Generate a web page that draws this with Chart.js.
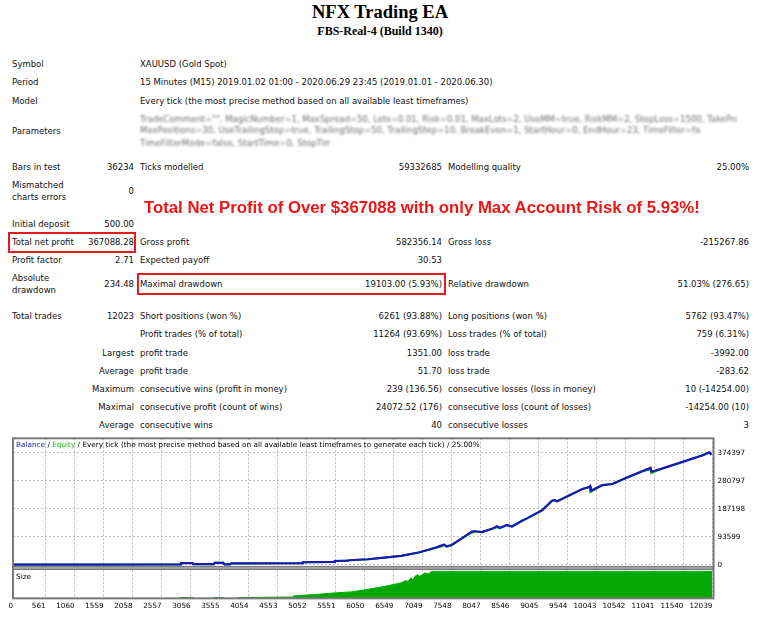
<!DOCTYPE html>
<html>
<head>
<meta charset="utf-8">
<script src="https://cdn.jsdelivr.net/npm/chart.js@4.4.1/dist/chart.umd.min.js"></script>
<style>
html, body { margin: 0; padding: 0; background: #fff; }
body { width: 760px; height: 620px; position: relative; overflow: hidden;
       font-family: "DejaVu Sans", sans-serif; font-size: 8.5px; color: #111; }
.title { position: absolute; left: 0; width: 760px; top: 2px; line-height: 20px; text-align: center;
         font: bold 18.5px "Liberation Serif", serif; color: #000; }
.sub { position: absolute; left: 0; width: 760px; top: 24px; line-height: 14px; text-align: center;
       font: bold 12px "Liberation Serif", serif; color: #000; }
.r { position: absolute; left: 0; width: 760px; height: 12px; line-height: 12px; }
.r span { position: absolute; top: 0; white-space: nowrap; }
.r span.two { top: -6px; }
.a { left: 12px; } .b { right: 626px; } .c { left: 140px; }
.d { right: 318px; } .e { left: 448px; } .f { right: 11px; }
.blur { position: absolute; left: 140px; height: 12px; line-height: 12px; overflow: hidden; white-space: nowrap;
        color: #3a3a3a; filter: blur(1.2px); opacity: 0.75; }
.headline { position: absolute; left: 144px; top: 199px; line-height: 18px; white-space: nowrap;
            font: bold 16px "Liberation Sans", sans-serif; color: #f01414; transform-origin: 0 50%; }
.box { position: absolute; border: 2px solid #e31b1b; box-sizing: border-box; }
#wrap { position: absolute; left: 0; top: 430px; width: 760px; height: 190px; }
.cap { position: absolute; left: 16px; font-size: 7.3px; line-height: 10px; white-space: nowrap; color: #000; }
</style>
</head>
<body>
<div class="title">NFX Trading EA</div>
<div class="sub">FBS-Real-4 (Build 1340)</div>

<div class="r" style="top:58px"><span class="a">Symbol</span><span class="c">XAUUSD (Gold Spot)</span></div>
<div class="r" style="top:76px"><span class="a">Period</span><span class="c">15 Minutes (M15) 2019.01.02 01:00 - 2020.06.29 23:45 (2019.01.01 - 2020.06.30)</span></div>
<div class="r" style="top:95px"><span class="a">Model</span><span class="c">Every tick (the most precise method based on all available least timeframes)</span></div>
<div class="r" style="top:125px"><span class="a">Parameters</span></div>
<div class="blur" style="top:113px;width:597px">TradeComment="", MagicNumber=1, MaxSpread=50, Lots=0.01, Risk=0.01, MaxLots=2, UseMM=true, RiskMM=2, StopLoss=1500, TakeProfit=300, Trailing=true</div>
<div class="blur" style="top:124px;width:560px">MaxPositions=30, UseTrailingStop=true, TrailingStop=50, TrailingStep=10, BreakEven=1, StartHour=0, EndHour=23, TimeFilter=false, Distance=150, Multiplier=1.5</div>
<div class="blur" style="top:137px;width:190px">TimeFilterMode=false, StartTime=0, StopTime=23</div>

<div class="r" style="top:161px"><span class="a">Bars in test</span><span class="b">36234</span><span class="c">Ticks modelled</span><span class="d">59332685</span><span class="e">Modelling quality</span><span class="f">25.00%</span></div>
<div class="r" style="top:185px"><span class="a two">Mismatched<br>charts errors</span><span class="b">0</span></div>

<div class="headline" id="headline">Total Net Profit of Over $367088 with only Max Account Risk of 5.93%!</div>

<div class="r" style="top:218px"><span class="a">Initial deposit</span><span class="b">500.00</span></div>
<div class="r" style="top:236px"><span class="a">Total net profit</span><span class="b">367088.28</span><span class="c">Gross profit</span><span class="d">582356.14</span><span class="e">Gross loss</span><span class="f">-215267.86</span></div>
<div class="r" style="top:254px"><span class="a">Profit factor</span><span class="b">2.71</span><span class="c">Expected payoff</span><span class="d">30.53</span></div>
<div class="r" style="top:278px"><span class="a two">Absolute<br>drawdown</span><span class="b">234.48</span><span class="c">Maximal drawdown</span><span class="d">19103.00 (5.93%)</span><span class="e">Relative drawdown</span><span class="f">51.03% (276.65)</span></div>
<div class="r" style="top:310px"><span class="a">Total trades</span><span class="b">12023</span><span class="c">Short positions (won %)</span><span class="d">6261 (93.88%)</span><span class="e">Long positions (won %)</span><span class="f">5762 (93.47%)</span></div>
<div class="r" style="top:328px"><span class="c">Profit trades (% of total)</span><span class="d">11264 (93.69%)</span><span class="e">Loss trades (% of total)</span><span class="f">759 (6.31%)</span></div>
<div class="r" style="top:347px"><span class="b">Largest</span><span class="c">profit trade</span><span class="d">1351.00</span><span class="e">loss trade</span><span class="f">-3992.00</span></div>
<div class="r" style="top:365px"><span class="b">Average</span><span class="c">profit trade</span><span class="d">51.70</span><span class="e">loss trade</span><span class="f">-283.62</span></div>
<div class="r" style="top:383px"><span class="b">Maximum</span><span class="c">consecutive wins (profit in money)</span><span class="d">239 (136.56)</span><span class="e">consecutive losses (loss in money)</span><span class="f">10 (-14254.00)</span></div>
<div class="r" style="top:401px"><span class="b">Maximal</span><span class="c">consecutive profit (count of wins)</span><span class="d">24072.52 (176)</span><span class="e">consecutive loss (count of losses)</span><span class="f">-14254.00 (10)</span></div>
<div class="r" style="top:419px"><span class="b">Average</span><span class="c">consecutive wins</span><span class="d">40</span><span class="e">consecutive losses</span><span class="f">3</span></div>

<div class="box" style="left:8px;top:232px;width:128px;height:21px"></div>
<div class="box" style="left:137px;top:273px;width:309px;height:22px"></div>

<div id="wrap"><canvas id="chart" width="760" height="190"></canvas></div>
<div class="cap" style="top:440px"><span style="color:#1a1ab4">Balance</span> / <span style="color:#1cbf1c">Equity</span> / Every tick (the most precise method based on all available least timeframes to generate each tick) / 25.00%</div>
<div class="cap" style="top:572px">Size</div>

<script>
// axis labels as printed by the tester
const xTicks = [0, 561, 1060, 1559, 2058, 2557, 3056, 3555, 4054, 4553, 5052, 5551, 6050, 6549,
                7049, 7548, 8047, 8546, 9045, 9544, 10043, 10542, 11041, 11540, 12039];
const yTicks = [0, 93599, 187198, 280797, 374397];

// balance / equity (trade number -> money)
const balanceTrades = [0, 1500, 2880, 2890, 3090, 3100, 3460, 3470, 3620, 3640, 3740, 3760,
                       4980, 4990, 5530, 5540, 5760, 5790, 6118, 6395, 6689, 6982, 7259, 7380,
                       7420, 7466, 7553, 7726, 7898, 7950, 8071, 8244, 8330, 8382, 8503, 8590,
                       8762, 8849, 9108, 9281, 9320, 9367, 9450, 9800, 9920, 9935, 9945, 10145,
                       10318, 10491, 10837, 10975, 10990, 11182, 11528, 11873, 11990, 12023];
const balanceValues = [500, 700, 1200, 5500, 5500, 1800, 2000, 6500, 6500, 1500, 1500, 4500,
                       5000, 8500, 9500, 12500, 13500, 15000, 18500, 24000, 30000, 41000, 56000, 65000,
                       67000, 62000, 66000, 88000, 111000, 112000, 109000, 120000, 129000, 123000, 133000, 128000,
                       147000, 155000, 182000, 214000, 216000, 212000, 220000, 253000, 260000, 263000, 247000, 266000,
                       270000, 285000, 313000, 324000, 311000, 322000, 344000, 366000, 376000, 367588];
const equityValues = [500, 700, 1200, 5500, 5500, 1800, 2000, 6500, 6500, 1500, 1500, 4500,
                      5000, 8500, 9500, 12500, 13500, 15000, 18500, 24000, 30000, 41000, 56000, 61000,
                      67000, 60000, 66000, 88000, 107000, 112000, 109000, 120000, 125000, 123000, 133000, 128000,
                      147000, 155000, 182000, 214000, 216000, 212000, 220000, 253000, 260000, 255000, 243000, 266000,
                      270000, 285000, 313000, 318000, 306000, 322000, 344000, 366000, 376000, 367588];

// position size per trade (lots)
const sizeTrades = [0, 2880, 2881, 3090, 3091, 3460, 3461, 3620, 3621, 3870, 3871, 4820, 4830,
                    5250, 5530, 5825, 6118, 6343, 6568, 6689, 6760, 6800, 6850, 6880, 6913,
                    6960, 7000, 7034, 7086, 7150, 7207, 12023, 12024];
const sizeLots = [0, 0, 1.5, 1.5, 0, 0, 1.5, 1.5, 0, 0, 1.5, 2.5, 4.5,
                  7.5, 10, 12, 17, 21, 26, 29, 33, 31, 38, 34, 40,
                  44, 41, 43, 47, 45, 50, 50, 0];

function toPoints(xs, ys) {
    return xs.map((x, i) => ({ x: x, y: ys[i] }));
}

// stretch the red headline to the width it has in the report
const hl = document.getElementById('headline');
hl.style.transform = 'scaleX(' + (556 / hl.offsetWidth) + ')';

Chart.defaults.font.family = '"DejaVu Sans", sans-serif';
Chart.defaults.font.size = 7.2;
Chart.defaults.color = '#000';

const framePlugin = {
    id: 'frame',
    afterDatasetsDraw(chart) {
        const { ctx, chartArea: a, scales } = chart;
        const sep = scales.y.bottom;
        ctx.save();
        ctx.fillStyle = '#a3a3a3';
        ctx.fillRect(a.left, sep, a.right - a.left, 4);
        ctx.strokeStyle = '#7a7a7a';
        ctx.lineWidth = 1;
        ctx.strokeRect(a.left + 0.5, sep + 0.5, a.right - a.left - 1, 3);
        ctx.lineWidth = 2;
        ctx.strokeRect(a.left, a.top, a.right - a.left, a.bottom - a.top);
        ctx.restore();
    }
};

// grid lines are dashed and crisp; the axis line itself is left invisible (frame is drawn by the plugin)
const gridOpts = { color: '#bcbcbc', lineWidth: 1, drawTicks: false };
const borderOpts = { display: true, width: 1, color: 'rgba(0,0,0,0)', dash: [2, 2] };

new Chart(document.getElementById('chart'), {
    type: 'line',
    data: {
        datasets: [{
            label: 'Balance',
            data: toPoints(balanceTrades, balanceValues),
            yAxisID: 'y',
            borderColor: '#1818b4',
            borderWidth: 2.2,
            pointRadius: 0,
            fill: false
        }, {
            label: 'Equity',
            data: toPoints(balanceTrades, equityValues),
            yAxisID: 'y',
            borderColor: '#14b414',
            borderWidth: 2,
            pointRadius: 0,
            fill: false
        }, {
            label: 'Size',
            data: toPoints(sizeTrades, sizeLots),
            yAxisID: 'ySize',
            borderColor: '#04a804',
            backgroundColor: '#04a804',
            borderWidth: 1,
            pointRadius: 0,
            fill: 'origin'
        }]
    },
    options: {
        responsive: false,
        animation: false,
        layout: { padding: { left: 13, top: 7, right: 11, bottom: 7 } },
        plugins: { legend: { display: false }, tooltip: { enabled: false } },
        scales: {
            x: {
                type: 'linear',
                min: 0,
                max: 12060,
                afterBuildTicks: s => { s.ticks = xTicks.map(v => ({ value: v })); },
                ticks: { autoSkip: false, maxRotation: 0, align: 'end', padding: 3, callback: v => String(v) },
                grid: gridOpts,
                border: borderOpts
            },
            y: {
                position: 'right',
                stack: 'panes',
                stackWeight: 130,
                min: -4000,
                max: 422600,
                afterBuildTicks: s => { s.ticks = yTicks.map(v => ({ value: v })); },
                ticks: { padding: 4, callback: v => String(v) },
                grid: gridOpts,
                border: borderOpts
            },
            ySize: {
                position: 'right',
                stack: 'panes',
                stackWeight: 33,
                min: 0,
                max: 60,
                ticks: { display: false },
                grid: { display: false },
                border: { display: false }
            }
        }
    },
    plugins: [framePlugin]
});
</script>
</body>
</html>
